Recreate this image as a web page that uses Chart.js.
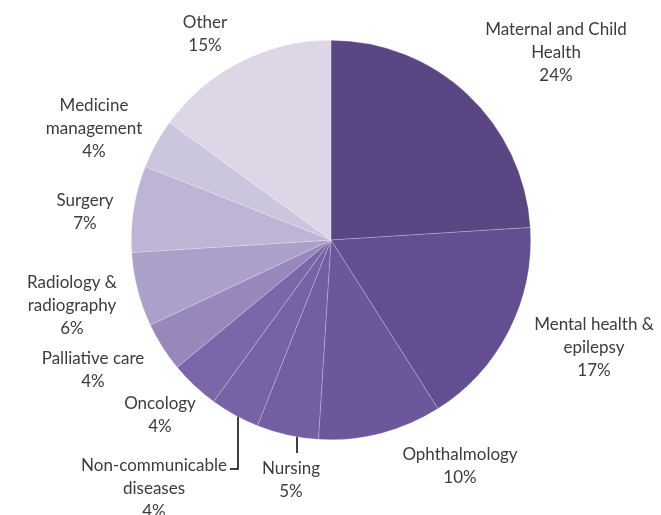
<!DOCTYPE html>
<html>
<head>
<meta charset="utf-8">
<script src="https://cdn.jsdelivr.net/npm/chart.js@4/dist/chart.umd.min.js"></script>
<style>
html,body{margin:0;padding:0;background:#fff;}
#wrap{width:661px;height:515px;}
</style>
</head>
<body>
<div id="wrap"><canvas id="c" width="661" height="515"></canvas></div>
<script>
const categories = ["Maternal and Child Health","Mental health & epilepsy","Ophthalmology","Nursing","Non-communicable diseases","Oncology","Palliative care","Radiology & radiography","Surgery","Medicine management","Other"];
const labelLines = [["Maternal and Child","Health"],["Mental health &","epilepsy"],["Ophthalmology"],["Nursing"],["Non-communicable","diseases"],["Oncology"],["Palliative care"],["Radiology &","radiography"],["Surgery"],["Medicine","management"],["Other"]];
const values = [24,17,10,5,4,4,4,6,7,4,15];
const colors = ["#5b4684","#634e91","#6c579a","#735ea2","#7862a6","#7c66aa","#9887bb","#aba0c9","#bdb4d6","#cbc5de","#dcd6e7"];

// label block centres relative to pie centre (layout only)
const labelLayout = [
  {dx:225, dy:-187},
  {dx:263, dy:107.5},
  {dx:129, dy:226},
  {dx:-40, dy:240, leader:{x:-34, y2:213}},
  {dx:-177, dy:248.5, leader:{x:-93, y2:229, hx:-101}},
  {dx:-171, dy:175.5},
  {dx:-238, dy:130},
  {dx:-259, dy:65.5},
  {dx:-246, dy:-28},
  {dx:-237, dy:-111.5},
  {dx:-126, dy:-206}
];

const labelPlugin = {
  id:'outLabels',
  afterDraw(chart){
    const ctx = chart.ctx;
    const meta = chart.getDatasetMeta(0);
    const total = values.reduce((a,b)=>a+b,0);
    ctx.save();
    ctx.font = '17px Lato, "Open Sans", sans-serif';
    ctx.fillStyle = '#3c3c3c';
    ctx.textAlign = 'center';
    ctx.textBaseline = 'middle';
    const lh = 23;
    meta.data.forEach((arc,i)=>{
      const cx = arc.x, cy = arc.y, r = arc.outerRadius;
      const L = labelLayout[i];
      const lines = labelLines[i].concat([Math.round(values[i]/total*100)+'%']);
      const bx = cx + L.dx, by = cy + L.dy;
      const y0 = by - (lines.length-1)*lh/2;
      lines.forEach((t,k)=>ctx.fillText(t, bx, y0 + k*lh));
      if(L.leader){
        const lx = cx + L.leader.x;
        const ey = cy + Math.sqrt(r*r - L.leader.x*L.leader.x);
        ctx.strokeStyle = '#000';
        ctx.lineWidth = 1.5;
        ctx.beginPath();
        ctx.moveTo(lx, ey);
        ctx.lineTo(lx, cy + L.leader.y2);
        if(L.leader.hx !== undefined) ctx.lineTo(cx + L.leader.hx, cy + L.leader.y2);
        ctx.stroke();
      }
    });
    ctx.restore();
  }
};

new Chart(document.getElementById('c'),{
  type:'pie',
  data:{labels:categories,datasets:[{data:values,backgroundColor:colors,borderColor:'rgba(255,255,255,0.35)',borderWidth:0.6}]},
  options:{
    responsive:false,
    animation:false,
    layout:{padding:{left:131,right:130,top:40,bottom:75}},
    plugins:{legend:{display:false},tooltip:{enabled:false}}
  },
  plugins:[labelPlugin]
});
</script>
</body>
</html>
